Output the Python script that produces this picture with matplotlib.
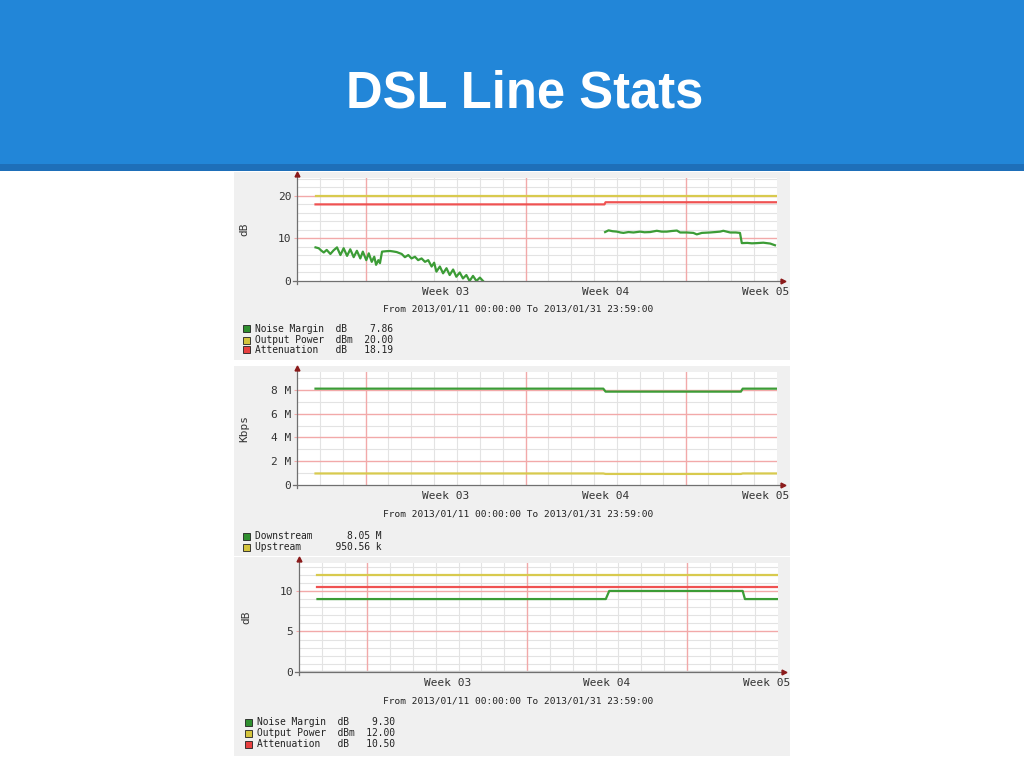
import matplotlib
matplotlib.use('Agg')
import matplotlib.pyplot as plt
from matplotlib.patches import Rectangle
import pandas as pd

'''DATA'''
t_start = pd.Timestamp('2013-01-11 00:00:00')
t_end = pd.Timestamp('2013-01-31 23:59:00')
range_text = 'From 2013/01/11 00:00:00 To 2013/01/31 23:59:00'

# graph 1 : days since start / dB
nm_a_day = [0.81, 0.95, 1.05, 1.17, 1.3, 1.46, 1.6, 1.75, 1.9, 2.04, 2.19, 2.33, 2.48, 2.62,
            2.77, 2.88, 3.03, 3.14, 3.27, 3.38, 3.46, 3.56, 3.63, 3.72, 3.9, 4.07, 4.2, 4.36,
            4.58, 4.72, 4.87, 5.01, 5.16, 5.3, 5.45, 5.6, 5.74, 5.89, 6.0, 6.1, 6.25, 6.39,
            6.54, 6.68, 6.83, 6.97, 7.12, 7.26, 7.41, 7.55, 7.7, 7.85, 8.0, 8.14]
nm_a_val = [7.9, 7.7, 7.2, 6.7, 7.3, 6.35, 7.2, 7.9, 6.1, 7.7, 5.9, 7.45, 5.6, 7.1,
            5.3, 6.9, 4.9, 6.5, 4.5, 5.7, 3.8, 4.9, 4.2, 6.9, 7.0, 7.05, 6.95, 6.8,
            6.35, 5.6, 6.1, 5.3, 5.7, 4.9, 5.3, 4.5, 4.9, 3.4, 4.3, 2.2, 3.4, 1.8,
            3.0, 1.4, 2.7, 1.0, 2.0, 0.6, 1.4, 0.0, 1.2, 0.0, 0.8, 0.0]
nm_b_day = [13.48, 13.63, 13.8, 14.0, 14.15, 14.28, 14.5, 14.72, 15.01, 15.2, 15.45, 15.74,
            15.95, 16.18, 16.4, 16.62, 16.76, 17.05, 17.34, 17.49, 17.71, 18.07, 18.3,
            18.51, 18.65, 18.95, 19.2, 19.38, 19.46, 19.7, 19.9, 20.11, 20.4, 20.7, 20.91]
nm_b_val = [11.5, 11.9, 11.7, 11.6, 11.4, 11.3, 11.5, 11.4, 11.6, 11.45, 11.5, 11.8,
            11.6, 11.6, 11.75, 11.85, 11.4, 11.4, 11.3, 10.95, 11.3, 11.4, 11.5,
            11.6, 11.8, 11.4, 11.4, 11.3, 8.9, 8.95, 8.85, 8.9, 9.0, 8.8, 8.4]
pw1_day = [0.81, 21.0]
pw1_val = [20.0, 20.0]
at1_day = [0.81, 13.45, 13.5, 21.0]
at1_val = [18.0, 18.0, 18.5, 18.5]

# graph 2 : days / Mbit
down_day = [0.81, 13.4, 13.5, 19.42, 19.5, 21.0]
down_val = [8.1, 8.1, 7.85, 7.85, 8.1, 8.1]
up_day = [0.81, 13.4, 13.5, 19.42, 19.5, 21.0]
up_val = [0.97, 0.97, 0.93, 0.93, 0.97, 0.97]

# graph 3 : days / dB
nm3_day = [0.81, 13.45, 13.6, 19.45, 19.55, 21.0]
nm3_val = [9.0, 9.0, 10.0, 10.0, 9.0, 9.0]
pw3_day = [0.81, 21.0]
pw3_val = [12.0, 12.0]
at3_day = [0.81, 21.0]
at3_val = [10.5, 10.5]

legend1 = [('Noise Margin', 'dB', '7.86'), ('Output Power', 'dBm', '20.00'), ('Attenuation', 'dB', '18.19')]
legend2 = [('Downstream', '8.05 M'), ('Upstream', '950.56 k')]
legend3 = [('Noise Margin', 'dB', '9.30'), ('Output Power', 'dBm', '12.00'), ('Attenuation', 'dB', '10.50')]

'''STYLE'''
green = '#3c9c36'
yellow = '#d8ca4e'
red = '#ef5252'
box_cols = ['#2f8f2f', '#d4c43c', '#e84040']
bg = '#f0f0f0'
mgrid = '#f2a9a9'
mingrid = '#e3e3e3'
arrow = '#8b1a1a'
mono = 'DejaVu Sans Mono'

W, H = 1024, 768
fig = plt.figure(figsize=(W/100, H/100), dpi=100)
fig.patch.set_facecolor('white')

def fx(x):
    return x/W

def fy(y):
    return 1-y/H

# header
fig.add_artist(Rectangle((0, fy(164)), 1, 164/H, transform=fig.transFigure, color='#2286d8', lw=0, zorder=-5))
fig.add_artist(Rectangle((0, fy(171)), 1, 7/H, transform=fig.transFigure, color='#1e6fb9', lw=0, zorder=-5))
fig.text(fx(525), fy(107), 'DSL Line Stats', color='white', fontsize=36.5, fontweight='bold',
         family='Liberation Sans', ha='center', va='baseline')

total_days = (t_end - t_start).total_seconds()/86400
mondays = pd.date_range(t_start, t_end, freq='W-MON')
week_pos = [(m - t_start).days for m in mondays]
week_lab = ['Week %02d' % m.isocalendar()[1] for m in mondays]
label_pos = [p + 3.5 for p in week_pos]
day_pos = [d for d in range(1, int(total_days) + 1) if d not in week_pos]


def make_panel(box, plot, ymax, major, minor, fmt, ylabel, ylab_x, from_y, leg_x, leg_y, lines, legend_txt):
    x0, y0, x1, y1 = box
    fig.add_artist(Rectangle((fx(x0), fy(y1)), (x1-x0)/W, (y1-y0)/H, transform=fig.transFigure,
                             color=bg, lw=0, zorder=-5))
    l, r, t, b = plot
    ax = fig.add_axes([fx(l), fy(b), (r-l)/W, (b-t)/H])
    ax.set_facecolor('white')
    ax.set_xlim(0, total_days)
    ax.set_ylim(0, ymax)
    for s in ax.spines.values():
        s.set_visible(False)

    # grid
    for d in day_pos:
        ax.axvline(d, color=mingrid, lw=0.8, zorder=0)
    for v in minor:
        if v not in major:
            ax.axhline(v, color=mingrid, lw=0.8, zorder=0)
    for d in week_pos:
        ax.axvline(d, color=mgrid, lw=1.0, zorder=0.5)
    for v in major:
        if v > 0:
            ax.axhline(v, color=mgrid, lw=1.0, zorder=0.5)

    for xs, ys, c in lines:
        ax.plot(xs, ys, color=c, lw=1.6, zorder=3, solid_joinstyle='round')

    # axes + arrows
    ax.plot([-0.008, 1.008], [0, 0], transform=ax.transAxes, color='#707070', lw=0.9, clip_on=False, zorder=4)
    ax.plot([0, 0], [-0.03, 1.03], transform=ax.transAxes, color='#707070', lw=0.9, clip_on=False, zorder=4)
    ax.plot([1.012], [0], transform=ax.transAxes, marker='>', ms=3.5, color=arrow, clip_on=False, zorder=5)
    ax.plot([0], [1.035], transform=ax.transAxes, marker='^', ms=3.5, color=arrow, clip_on=False, zorder=5)

    ax.set_yticks(major)
    ax.set_yticklabels([fmt(v) for v in major], fontsize=8, family=mono, color='#333333')
    ax.tick_params(axis='y', length=2.5, width=0.8, color=mgrid, pad=1.5)
    ax.set_xticks(label_pos)
    ax.set_xticklabels(week_lab, fontsize=8, family=mono, color='#333333')
    ax.tick_params(axis='x', length=0, pad=4.5)

    fig.text(fx(ylab_x), fy((t+b)/2), ylabel, rotation=90, fontsize=8, family=mono,
             color='#333333', ha='center', va='center')
    fig.text(fx(518), fy(from_y), range_text, fontsize=6.8, family=mono,
             color='#222222', ha='center', va='center')

    for i, row in enumerate(legend_txt):
        yy = leg_y[i]
        fig.add_artist(Rectangle((fx(leg_x-3.5), fy(yy+3.5)), 7/W, 7/H, transform=fig.transFigure,
                                 facecolor=box_cols[i], edgecolor='#202020', lw=0.6))
        if len(row) == 3:
            s = '%-14s%-4s%6s' % row
        else:
            s = '%-10s%12s' % row
        fig.text(fx(leg_x+9), fy(yy), s, fontsize=6.9, family=mono, color='#222222',
                 ha='left', va='center')
    return ax


make_panel((234, 172, 790, 360), (297, 777, 178, 281), 24.2, [0, 10, 20],
           list(range(2, 25, 2)), lambda v: '%d' % v, 'dB', 244, 309, 246, [329, 340, 350],
           [(pw1_day, pw1_val, yellow), (at1_day, at1_val, red),
            (nm_a_day, nm_a_val, green), (nm_b_day, nm_b_val, green)], legend1)

make_panel((234, 366, 790, 556), (297, 777, 372, 485), 9.5, [0, 2, 4, 6, 8],
           list(range(1, 10)), lambda v: '0' if v == 0 else '%d M' % v, 'Kbps', 244, 514, 246, [536, 547],
           [(up_day, up_val, yellow), (down_day, down_val, green)], legend2)

ax3 = make_panel((234, 557, 790, 756), (299, 778, 563, 672), 13.45, [0, 5, 10],
                 list(range(1, 14)), lambda v: '%d' % v, 'dB', 246, 701, 248, [722, 733, 744],
                 [(pw3_day, pw3_val, yellow), (at3_day, at3_val, red), (nm3_day, nm3_val, green)], legend3)
ax3.axhline(0, color='#d4d4d4', lw=2.5, zorder=2)

plt.savefig('out.png', dpi=100)
print("done")
